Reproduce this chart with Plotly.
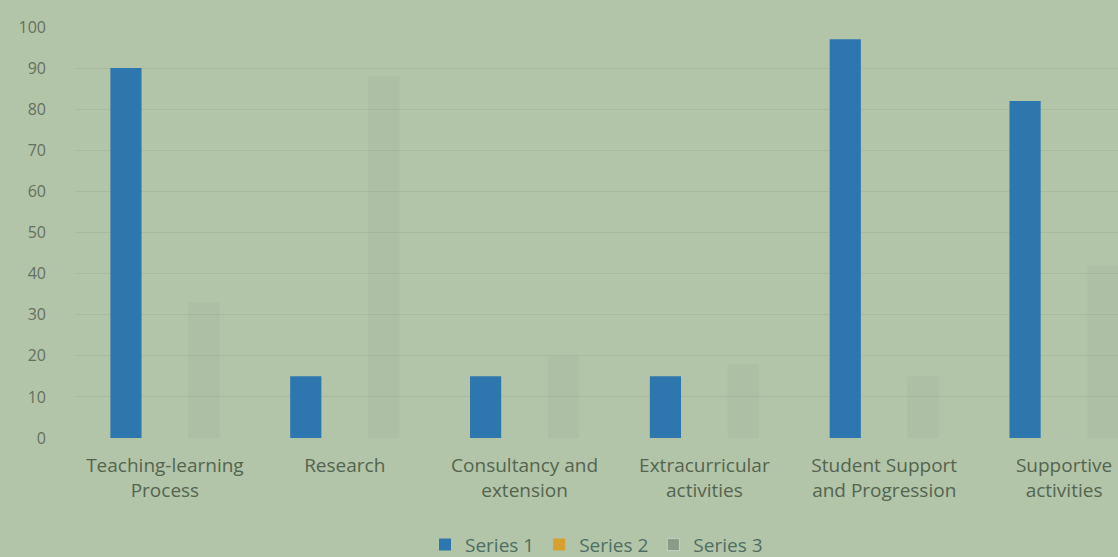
import plotly.graph_objects as go

categories = [
    "Teaching-learning<br>Process",
    "Research",
    "Consultancy and<br>extension",
    "Extracurricular<br>activities",
    "Student Support<br>and Progression",
    "Supportive<br>activities",
]
series1 = [90, 15, 15, 15, 97, 82]
series2 = [0, 0, 0, 0, 0, 0]
series3 = [33, 88, 20, 18, 15, 42]
y_ticks = [0, 10, 20, 30, 40, 50, 60, 70, 80, 90, 100]

bg = "rgb(178,197,168)"
txt = "rgb(84,100,80)"

fig = go.Figure()
fig.add_trace(go.Bar(name="Series 1", x=categories, y=series1, offsetgroup="1",
                     marker=dict(color="rgb(46,118,174)", line=dict(width=0))))
fig.add_trace(go.Bar(name="Series 2", x=categories, y=series2, offsetgroup="2",
                     marker=dict(color="rgb(214,160,50)", line=dict(width=0))))
fig.add_trace(go.Bar(name="Series 3", x=categories, y=series3, offsetgroup="3",
                     showlegend=False,
                     marker=dict(color="rgba(150,168,146,0.17)", line=dict(width=0))))
# legend swatch for series 3 (shares the series 3 slot)
fig.add_trace(go.Bar(name="Series 3", x=[categories[0]], y=[None], offsetgroup="3",
                     marker=dict(color="rgb(140,155,135)"), showlegend=True))

fig.update_layout(
    width=1118, height=557,
    paper_bgcolor=bg, plot_bgcolor=bg,
    margin=dict(l=75, r=0, t=27, b=119, autoexpand=False),
    barmode="group", bargap=0.35, bargroupgap=0.2,
    font=dict(family="Open Sans, sans-serif", size=19, color=txt),
    showlegend=True,
    legend=dict(orientation="h", x=0.5, xanchor="center",
                yref="container", y=0.022, yanchor="middle",
                font=dict(size=19, color="rgb(78,110,100)"), bgcolor="rgba(0,0,0,0)",
                traceorder="normal"),
    xaxis=dict(range=[-0.5, 5.3], showgrid=False, showline=False, ticks="",
               tickfont=dict(size=19, color=txt), ticklabelstandoff=14,
               automargin=False, fixedrange=True),
    yaxis=dict(range=[0, 100], tickvals=y_ticks, showgrid=True,
               gridcolor="rgb(167,185,159)", gridwidth=1, zeroline=False,
               showline=False, ticks="", ticklabelstandoff=28, automargin=False,
               tickfont=dict(size=16, color="rgb(100,112,96)")),
)

fig.write_html("out.html", config={"displayModeBar": False},
               post_script="document.body.style.margin='0';")
